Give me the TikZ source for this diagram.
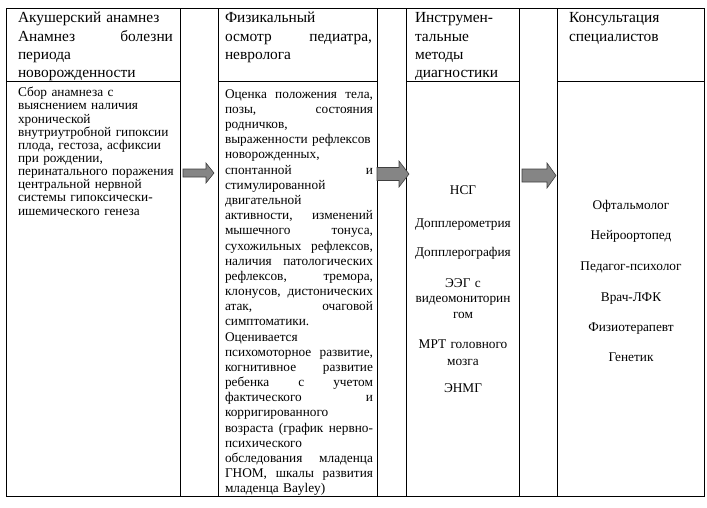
\documentclass[tikz,border=0pt]{standalone}
\usepackage{fontspec}
\setmainfont{Liberation Serif}
\newcommand{\myJ}[2][148pt]{\makebox[#1][s]{\spaceskip=0.25em plus 1fil\relax\xspaceskip=0.25em plus 1fil\relax #2}}
\newcommand{\myL}[1]{\mbox{#1}}
\begin{document}
\begin{tikzpicture}[x=1pt,y=-1pt,
  every node/.style={inner sep=0pt,outer sep=0pt},
  grid/.style={line width=0.9pt,black},
  hd/.style={anchor=base west,align=left,font=\fontsize{15.4}{18.3}\selectfont},
  bd/.style={anchor=base west,align=left},
  ctr/.style={anchor=base,align=center,font=\fontsize{13.3}{15.5}\selectfont},
  blockarrow/.style={fill=black!48,draw=black!75,line width=0.6pt,line join=miter}]
\useasboundingbox (0,0) rectangle (707,507);
% table grid
\draw[grid] (6,8) rectangle (704,496);
\foreach \x in {180,218,377,406,519,557} \draw[grid] (\x,8) -- (\x,496);
\draw[grid] (6,81) -- (180,81) (218,81) -- (377,81) (406,81) -- (519,81) (557,81) -- (704,81);
% headers
\node[hd,text width=155pt] (h1) at (18,22.7) {\myL{Акушерский анамнез}\\\myJ[155pt]{Анамнез болезни}\\\myL{периода}\\\myL{новорожденности}};
\node[hd,text width=148pt] (h2) at (225,22.7) {\myL{Физикальный}\\\myJ[147pt]{осмотр педиатра,}\\\myL{невролога}};
\node[hd,text width=100pt] (h3) at (415,22.7) {\myL{Инструмен-}\\\myL{тальные}\\\myL{методы}\\\myL{диагностики}};
\node[hd,text width=130pt] (h4) at (569,22.7) {\myL{Консультация}\\\myL{специалистов}};
% column 1 body
\node[bd,text width=155pt,font=\fontsize{13.3}{13.15}\selectfont] (b1) at (18,96.7) {%
\myL{Сбор анамнеза с}\\
\myL{выяснением наличия}\\
\myL{хронической}\\
\myL{внутриутробной гипоксии}\\
\myL{плода, гестоза, асфиксии}\\
\myL{при рождении,}\\
\myL{перинатального поражения}\\
\myL{центральной нервной}\\
\myL{системы гипоксически-}\\
\myL{ишемического генеза}};
% column 2 body
\node[bd,text width=148pt,font=\fontsize{13.3}{15.17}\selectfont] (b2) at (225,98.3) {%
\myJ{Оценка положения тела,}\\
\myJ{позы, состояния}\\
\myL{родничков,}\\
\myL{выраженности рефлексов}\\
\myL{новорожденных,}\\
\myJ{спонтанной и}\\
\myL{стимулированной}\\
\myL{двигательной}\\
\myJ{активности, изменений}\\
\myJ{мышечного тонуса,}\\
\myJ{сухожильных рефлексов,}\\
\myJ{наличия патологических}\\
\myJ{рефлексов, тремора,}\\
\myJ{клонусов, дистонических}\\
\myJ{атак, очаговой}\\
\myL{симптоматики.}\\
\myL{Оценивается}\\
\myJ{психомоторное развитие,}\\
\myJ{когнитивное развитие}\\
\myJ{ребенка с учетом}\\
\myJ{фактического и}\\
\myL{корригированного}\\
\myJ{возраста (график нервно-}\\
\myL{психического}\\
\myJ{обследования младенца}\\
\myJ{ГНОМ, шкалы развития}\\
\myL{младенца Bayley)}};
% column 3 body
\node[ctr] (m1) at (463,194) {НСГ};
\node[ctr] (m2) at (463,227) {Допплерометрия};
\node[ctr] (m3) at (463,256) {Допплерография};
\node[ctr,text width=108pt] (m4) at (463,287) {ЭЭГ с\\видеомониторин\\гом};
\node[ctr,text width=108pt,font=\fontsize{13.3}{17}\selectfont] (m5) at (463,348) {МРТ головного\\мозга};
\node[ctr] (m6) at (463,392) {ЭНМГ};
% column 4 body
\node[ctr] (s1) at (631,209) {Офтальмолог};
\node[ctr] (s2) at (631,239) {Нейроортопед};
\node[ctr] (s3) at (631,270) {Педагог-психолог};
\node[ctr] (s4) at (631,301) {Врач-ЛФК};
\node[ctr] (s5) at (631,331) {Физиотерапевт};
\node[ctr] (s6) at (631,361) {Генетик};
% block arrows
\draw[blockarrow] (183,169) -- (206,169) -- (206,163) -- (214,173) -- (206,183) -- (206,177) -- (183,177) -- cycle;
\draw[blockarrow] (377,167.5) -- (399,167.5) -- (399,161) -- (409,174) -- (399,187) -- (399,180.5) -- (377,180.5) -- cycle;
\draw[blockarrow] (522,169) -- (547,169) -- (547,163) -- (556,175.5) -- (547,188) -- (547,182) -- (522,182) -- cycle;
\end{tikzpicture}
\end{document}
